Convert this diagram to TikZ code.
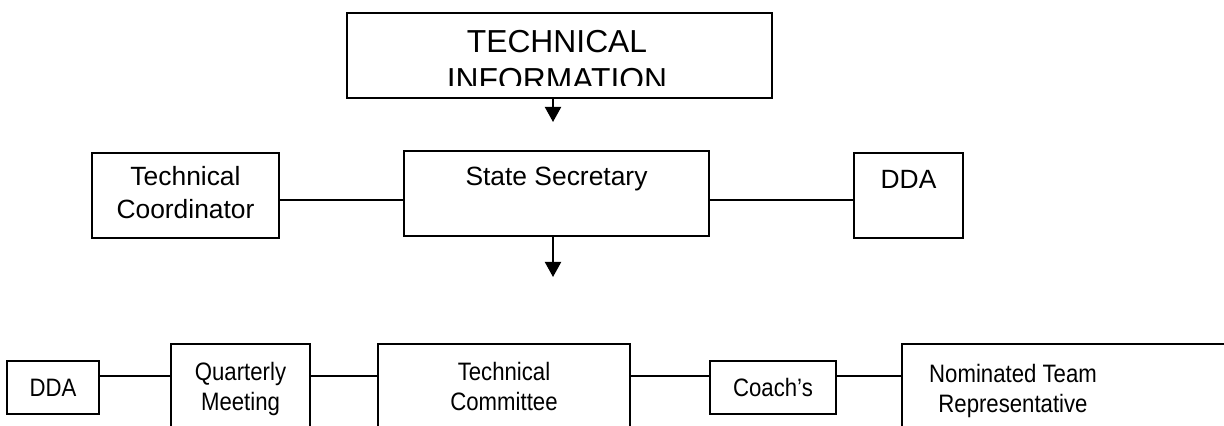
\documentclass[tikz,border=0pt]{standalone}
\usepackage{fontspec}
\setmainfont{Liberation Sans}
\newfontfamily\narrowsans[FakeStretch=0.88]{Liberation Sans}
\usetikzlibrary{arrows.meta}

\begin{document}
\begin{tikzpicture}[x=0.5pt, y=-0.5pt, line width=1pt,
  box/.style={draw, anchor=north west, inner sep=0pt, align=center},
  rowone/.style={font=\fontsize{13.2}{16.7}\selectfont},
  rowtwo/.style={font=\narrowsans\fontsize{12.6}{15.3}\selectfont},
  arr/.style={-{Triangle[length=7.5pt,width=8pt]}}]
\useasboundingbox (0,0) rectangle (1224,426);

% top box (its second line is cut off, as in the original)
\node[box, minimum width=212.5pt, minimum height=42.5pt] (info) at (346,12) {};
\begin{scope}
\clip (346,12) rectangle (771,86);
\node[inner sep=0pt, align=center, font=\fontsize{15.9}{19}\selectfont, anchor=north] (infotext) at (557,29) {TECHNICAL\\INFORMATION};
\end{scope}

% first row
\node[box, rowone, minimum width=93.5pt, text height=33pt, text depth=9.5pt] (tc) at (91,152) {Technical\\Coordinator};
\node[box, rowone, minimum width=152.5pt, text height=17.5pt, text depth=25pt] (ss) at (403,150) {State Secretary};
\node[box, rowone, minimum width=54.5pt, text height=18pt, text depth=24.5pt] (ddaa) at (853,152) {DDA};

% second row
\node[box, rowtwo, minimum width=46pt, minimum height=26.5pt] (ddab) at (6,360) {DDA};
\node[box, rowtwo, minimum width=69.5pt, text height=33.5pt, text depth=15pt] (qm) at (170,343) {Quarterly\\Meeting};
\node[box, rowtwo, minimum width=126pt, text height=33.5pt, text depth=15pt] (tcom) at (377,343) {Technical\\Committee};
\node[box, rowtwo, minimum width=63pt, minimum height=26.5pt] (coach) at (709,360) {Coach’s};
\node[box, minimum width=170pt, minimum height=48.5pt] (ntr) at (901,343) {};
\node[rowtwo, inner sep=0pt, align=center, anchor=north] (ntrtext) at (1013,363) {Nominated Team\\Representative};

% connector heights and arrow tips
\coordinate (rowa) at (0,200);
\coordinate (rowb) at (0,376);
\coordinate (tipa) at (553,122);
\coordinate (tipb) at (553,277);

\draw (tc.east |- rowa) -- (ss.west |- rowa);
\draw (ss.east |- rowa) -- (ddaa.west |- rowa);
\draw (ddab.east |- rowb) -- (qm.west |- rowb);
\draw (qm.east |- rowb) -- (tcom.west |- rowb);
\draw (tcom.east |- rowb) -- (coach.west |- rowb);
\draw (coach.east |- rowb) -- (ntr.west |- rowb);

\draw[arr] (info.south -| tipa) -- (tipa);
\draw[arr] (ss.south -| tipb) -- (tipb);
\end{tikzpicture}
\end{document}
